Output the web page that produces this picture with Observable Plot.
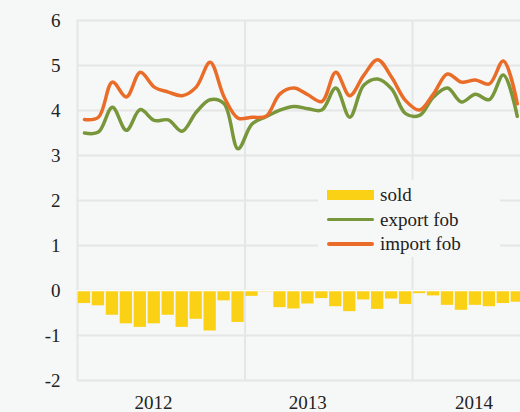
<!DOCTYPE html>
<html>
<head>
<meta charset="utf-8">
<script src="https://cdn.jsdelivr.net/npm/d3@7"></script>
<script src="https://cdn.jsdelivr.net/npm/@observablehq/plot@0.6"></script>
<style>
  html, body { margin: 0; padding: 0; background: #f6f7f7; }
  #wrap { position: relative; width: 520px; height: 412px; overflow: hidden; }
  #legend { position: absolute; left: 318px; top: 180px; width: 182px; height: 77px; background: #f6f7f7;
            font-family: "Liberation Serif", "Times New Roman", serif; font-size: 19px; color: #222; }
  .row { position: absolute; left: 9px; height: 24px; display: flex; align-items: center; }
  .sw { width: 47px; margin-right: 6px; }
</style>
</head>
<body>
<div id="wrap"></div>
<script>
const years = ["2012", "2013", "2014"];
const seriesNames = ["sold", "export fob", "import fob"];
const colors = ["#fbd116", "#78963a", "#e96d28"];
// monthly, Jan 2012 .. Aug 2014
const sold = [-0.29,-0.34,-0.55,-0.74,-0.82,-0.74,-0.55,-0.82,-0.64,-0.90,-0.23,-0.71,
              -0.13,-0.03,-0.38,-0.41,-0.30,-0.18,-0.36,-0.47,-0.21,-0.42,-0.19,-0.31,
              -0.07,-0.12,-0.33,-0.44,-0.33,-0.36,-0.29,-0.26];
const exportFob = [3.50,3.52,4.07,3.56,4.02,3.78,3.79,3.54,3.96,4.24,4.15,3.15,
                   3.70,3.86,4.01,4.09,4.04,4.01,4.50,3.85,4.56,4.70,4.48,3.93,
                   3.89,4.30,4.50,4.19,4.36,4.24,4.79,3.87];
const importFob = [3.80,3.85,4.63,4.30,4.85,4.52,4.41,4.33,4.52,5.07,4.30,3.83,
                   3.85,3.87,4.37,4.50,4.35,4.20,4.85,4.33,4.78,5.13,4.74,4.22,
                   4.01,4.37,4.81,4.63,4.68,4.59,5.10,4.15];

const idx = d3.range(sold.length);
const barData = idx.map(i => ({x1: i + 0.06, x2: i + 0.94, v: sold[i]}));
const exp = idx.map(i => ({x: i + 0.5, v: exportFob[i]}));
const imp = idx.map(i => ({x: i + 0.5, v: importFob[i]}));
const yearTicks = [5.45, 16.5, 28.4];

const chart = Plot.plot({
  width: 520,
  height: 412,
  marginLeft: 77,
  marginRight: 0,
  marginTop: 20,
  marginBottom: 32,
  style: {background: "#f6f7f7", fontFamily: "'Liberation Serif', 'Times New Roman', serif", fontSize: "19px", color: "#222"},
  x: {domain: [0, 31.73], label: null},
  y: {domain: [-2, 6], label: null},
  marks: [
    Plot.ruleY(d3.range(-2, 7), {stroke: "#e5e6e6", strokeWidth: 2}),
    Plot.ruleX([0, 12, 24], {stroke: "#e5e6e6", strokeWidth: 2}),
    Plot.rectY(barData, {x1: "x1", x2: "x2", y: "v", fill: colors[0]}),
    Plot.ruleY([0], {stroke: "#ffffff", strokeWidth: 1.5}),
    Plot.line(exp, {x: "x", y: "v", stroke: colors[1], strokeWidth: 3.5, curve: "catmull-rom"}),
    Plot.line(imp, {x: "x", y: "v", stroke: colors[2], strokeWidth: 3.5, curve: "catmull-rom"}),
    Plot.axisY(d3.range(-2, 7), {label: null, tickSize: 0, tickPadding: 17, tickFormat: d => d < 0 ? "-" + Math.abs(d) : String(d), fill: "#222"}),
    Plot.axisX(yearTicks, {label: null, tickSize: 0, tickPadding: 15, tickFormat: (d, i) => years[i], fill: "#222"})
  ]
});
const wrap = document.getElementById("wrap");
wrap.appendChild(chart);

const legend = document.createElement("div");
legend.id = "legend";
seriesNames.forEach((name, i) => {
  const row = document.createElement("div");
  row.className = "row";
  row.style.top = (3 + i * 24.5) + "px";
  const sw = document.createElement("div");
  sw.className = "sw";
  sw.style.background = colors[i];
  sw.style.height = i === 0 ? "10px" : "3.5px";
  sw.style.borderRadius = i === 0 ? "0" : "2px";
  const t = document.createElement("span");
  t.textContent = name;
  row.appendChild(sw);
  row.appendChild(t);
  legend.appendChild(row);
});
wrap.appendChild(legend);
</script>
</body>
</html>
